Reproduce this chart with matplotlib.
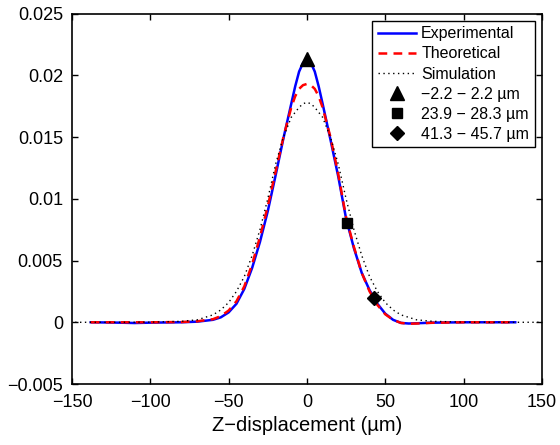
import numpy as np
import matplotlib
matplotlib.use('Agg')
import matplotlib.pyplot as plt

plt.rcParams['font.family'] = ['Liberation Sans', 'DejaVu Sans']

# experimental curve
exp_x = [-138, -120, -110, -100, -80, -70, -60, -55, -50, -45, -40, -35, -30, -25, -20, -15, -10, -7.5, -5, -2.5, 0,
         2.5, 5, 7.5, 10, 15, 20, 25, 30, 35, 40, 45, 50, 55, 60, 65, 70, 80, 100, 120, 133]
exp_y = [0.0, -0.00003, -0.00006, -0.00003, 0.0, 0.00005, 0.0002, 0.0004, 0.0008, 0.0015, 0.0027, 0.0044,
         0.0065, 0.0090, 0.0119, 0.0149, 0.0177, 0.0191, 0.0203, 0.0210, 0.0212,
         0.0210, 0.0203, 0.0191, 0.0177, 0.0148, 0.0118, 0.0084, 0.0060, 0.0040, 0.0026, 0.0015, 0.0007, 0.0002,
         -0.00005, -0.0001, -0.00008, -0.00003, 0.0, 0.0, 0.0]

# theoretical curve
th_x = [-138, -100, -80, -70, -60, -55, -50, -45, -40, -35, -30, -25, -20, -15, -10, -7.5, -5, -2.5, 0,
        2.5, 5, 7.5, 10, 15, 20, 25, 30, 35, 40, 45, 50, 55, 60, 65, 70, 80, 100, 133]
th_y = [0.0, 0.0, 0.00002, 0.00008, 0.00025, 0.0005, 0.00095, 0.0017, 0.0029, 0.0047, 0.0069, 0.0094,
        0.0122, 0.0150, 0.0174, 0.0183, 0.0189, 0.0192, 0.0193,
        0.0192, 0.0189, 0.0183, 0.0174, 0.0150, 0.0120, 0.0085, 0.0061, 0.0040, 0.0025, 0.0014, 0.00065,
        0.0002, -0.00005, -0.00012, -0.0001, -0.00004, 0.0, 0.0]

# simulation curve
sim_x = [-148, -120, -100, -80, -70, -60, -55, -50, -45, -40, -35, -30, -25, -20, -15, -10, -5, -2.5, 0,
         2.5, 5, 10, 15, 20, 25, 30, 35, 40, 45, 50, 55, 60, 70, 80, 100, 120, 148]
sim_y = [0.0, 0.0, 0.00001, 0.00008, 0.0002, 0.0006, 0.001, 0.0016, 0.0025, 0.0037, 0.0054, 0.0075,
         0.0100, 0.0128, 0.0150, 0.0166, 0.0174, 0.0177, 0.0178,
         0.0177, 0.0174, 0.0166, 0.0150, 0.0128, 0.0100, 0.0075, 0.0054, 0.0037, 0.0025, 0.0016, 0.001,
         0.0006, 0.0002, 0.00008, 0.00001, 0.0, 0.0]

# highlighted points
pts_x = [0, 25.5, 43]
pts_y = [0.0213, 0.0080, 0.0020]
pts_marker = ['^', 's', 'D']
pts_label = ['\u22122.2 \u2212 2.2 \u00b5m', '23.9 \u2212 28.3 \u00b5m', '41.3 \u2212 45.7 \u00b5m']
pts_size = [9.5, 7.5, 7.5]

fig = plt.figure(figsize=(5.6, 4.45), dpi=100)
ax = fig.add_axes([0.1286, 0.137, 0.839, 0.8326])

ax.plot(exp_x, exp_y, color='#0000ff', lw=1.8, label='Experimental')
ax.plot(th_x, th_y, color='#ff0000', lw=1.8, ls=(0, (3.5, 2.5)), label='Theoretical')
ax.plot(sim_x, sim_y, color='black', lw=1.0, ls=(0, (1, 2.5)), label='Simulation')
for x, y, m, lab, ms in zip(pts_x, pts_y, pts_marker, pts_label, pts_size):
    ax.plot(x, y, marker=m, ls='none', color='black', ms=ms, label=lab)

ax.set_xlim(-150, 150)
ax.set_ylim(-0.005, 0.025)
ax.set_xticks(np.arange(-150, 151, 50))
ax.set_yticks([-0.005, 0, 0.005, 0.01, 0.015, 0.02, 0.025])
ax.set_yticklabels(['\u22120.005', '0', '0.005', '0.01', '0.015', '0.02', '0.025'])
ax.tick_params(direction='in', top=True, right=True, labelsize=13, length=4.5, width=1)
ax.tick_params(axis='x', pad=7)
ax.tick_params(axis='y', pad=6.5)
for s in ax.spines.values():
    s.set_linewidth(1.2)
ax.set_xlabel('Z\u2212displacement (\u00b5m)', fontsize=14.5, labelpad=4)

leg = ax.legend(loc='upper right', fontsize=11.5, handlelength=2.4, fancybox=False, framealpha=1,
                edgecolor='black', borderpad=0.35, labelspacing=0.32, handletextpad=0.3,
                borderaxespad=0.45)
leg.get_frame().set_linewidth(1.0)

fig.savefig('out.png', dpi=100)
